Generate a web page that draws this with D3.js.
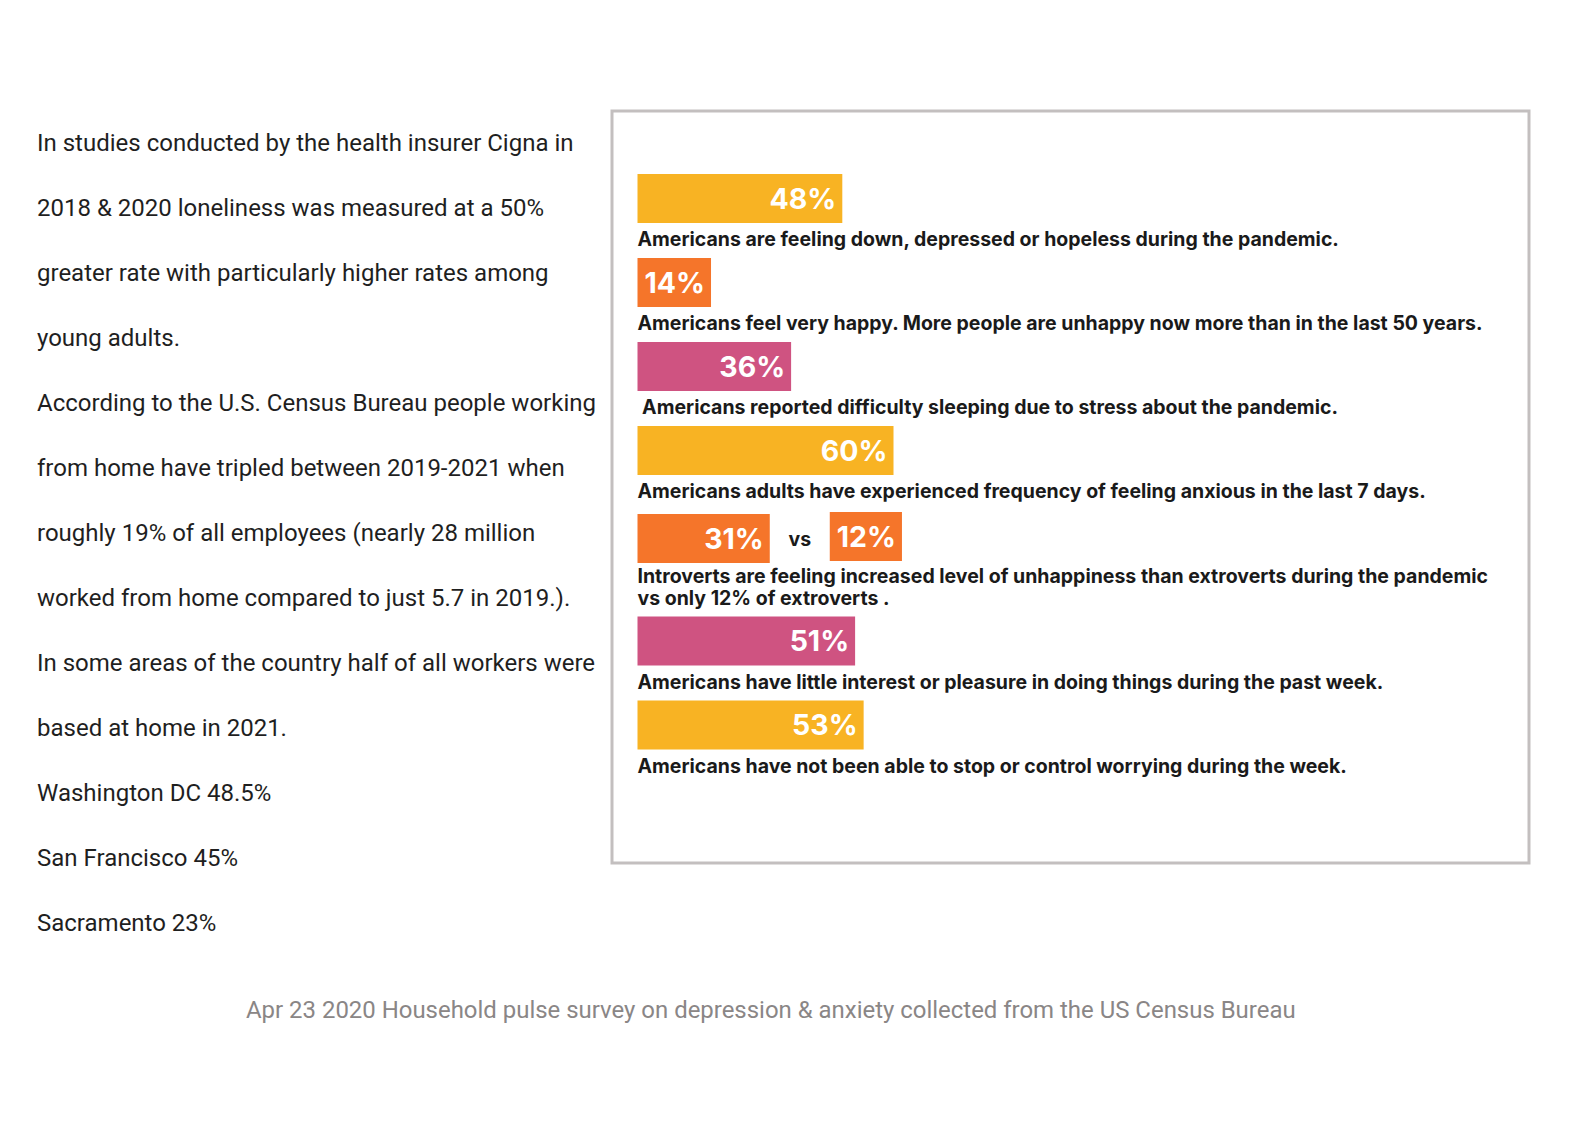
<!DOCTYPE html>
<html><head><meta charset="utf-8">
<script src="https://cdn.jsdelivr.net/npm/d3@7"></script>
<style>html,body{margin:0;padding:0;background:#fff;} svg{display:block}</style>
</head><body>
<svg id="chart" width="1584" height="1147"></svg>
<script>
// ---------- DATA ----------
const rowValues   = [48, 14, 36, 60, 31, 51, 53];
const rowCompare  = [null, null, null, null, 12, null, null];
const rowColorKey = ["yellow", "orange", "pink", "yellow", "orange", "pink", "yellow"];
const rowCaptions = [
  ["Americans are feeling down, depressed or hopeless during the pandemic."],
  ["Americans feel very happy. More people are unhappy now more than in the last 50 years."],
  [" Americans reported difficulty sleeping due to stress about the pandemic."],
  ["Americans adults have experienced frequency of feeling anxious in the last 7 days."],
  ["Introverts are feeling increased level of unhappiness than extroverts during the pandemic",
   "vs only 12% of extroverts ."],
  ["Americans have little interest or pleasure in doing things during the past week."],
  ["Americans have not been able to stop or control worrying during the week."]
];
const compareWord = "vs";
const leftLines = [
  "In studies conducted by the health insurer Cigna in",
  "2018 & 2020 loneliness was measured at a 50%",
  "greater rate with particularly higher rates among",
  "young adults.",
  "According to the U.S. Census Bureau people working",
  "from home have tripled between 2019-2021 when",
  "roughly 19% of all employees (nearly 28 million",
  "worked from home compared to just 5.7 in 2019.).",
  "In some areas of the country half of all workers were",
  "based at home in 2021.",
  "Washington DC 48.5%",
  "San Francisco 45%",
  "Sacramento 23%"
];
const footerText = "Apr 23 2020 Household pulse survey on depression & anxiety collected from the US Census Bureau";

// ---------- STYLE / LAYOUT ----------
const palette = {yellow: "#F8B323", orange: "#F5752A", pink: "#CF5381"};
const svg = d3.select("#chart");

// Frame
const frame = {x: 612, y: 111, w: 917, h: 752};
svg.append("rect")
  .attr("x", frame.x).attr("y", frame.y)
  .attr("width", frame.w).attr("height", frame.h)
  .attr("fill", "none").attr("stroke", "#c3bfbf").attr("stroke-width", 3);

// Left paragraph
const leftG = svg.append("g")
  .attr("font-family", "Roboto, 'Liberation Sans', sans-serif")
  .attr("font-size", 24).attr("fill", "#1f1f1f");
leftG.selectAll("text").data(leftLines).join("text")
  .attr("x", 37)
  .attr("y", (d, i) => 150.7 + i * 65)
  .text(d => d);

// Bars
const barX0 = 637.5, barH = 49, firstTop = 174;
const capOffset = 23, capOffsetMulti = 20, multiPreGap = 4, lineGap = 21.5, afterCap = 12;
const x = d3.scaleLinear().domain([0, 60]).range([0, 256]);

// caption font sizing: fit first caption to reference width
const capFont = "Inter, 'DejaVu Sans', sans-serif";
const probe = svg.append("text").attr("font-family", capFont).attr("font-weight", 700)
  .attr("font-size", 18).text(rowCaptions[0][0]);
const capSize = 18 * 702 / probe.node().getComputedTextLength();
probe.remove();

const valFont = "Inter, 'DejaVu Sans', sans-serif";
const valSize = 28.5;

// compute row tops
const rowTops = [], rowCapOff = [];
let yCursor = firstTop;
rowCaptions.forEach((lines, i) => {
  const multi = lines.length > 1;
  if (multi) yCursor += multiPreGap;
  const off = multi ? capOffsetMulti : capOffset;
  rowTops.push(yCursor);
  rowCapOff.push(off);
  yCursor += barH + off + (lines.length - 1) * lineGap + afterCap;
});

const rows = rowValues.map((v, i) => ({
  v, cmp: rowCompare[i], color: palette[rowColorKey[i]], caption: rowCaptions[i],
  top: rowTops[i], capOff: rowCapOff[i]
}));

const g = svg.append("g");

function drawBar(parent, xStart, top, value, color) {
  const lbl = parent.append("text")
    .attr("font-family", valFont).attr("font-weight", 700)
    .attr("font-size", valSize).attr("fill", "#fff")
    .attr("text-anchor", "end")
    .text(value + "%");
  const tw = lbl.node().getComputedTextLength();
  const w = Math.max(x(value), tw + 13);
  parent.insert("rect", "text")
    .attr("x", xStart).attr("y", top)
    .attr("width", w).attr("height", barH)
    .attr("fill", color);
  lbl.attr("x", xStart + w - 6).attr("y", top + barH / 2).attr("dy", "0.36em");
  return xStart + w;
}

rows.forEach(r => {
  const rg = g.append("g");
  const end1 = drawBar(rg, barX0, r.top, r.v, r.color);
  if (r.cmp !== null) {
    rg.append("text")
      .attr("x", end1 + 30).attr("y", r.top + barH / 2).attr("dy", "0.38em")
      .attr("text-anchor", "middle")
      .attr("font-family", capFont).attr("font-weight", 700)
      .attr("font-size", capSize).attr("fill", "#1a1a1a")
      .text(compareWord);
    drawBar(rg, end1 + 60, r.top - 2, r.cmp, r.color);
  }
  rg.selectAll("text.cap").data(r.caption).join("text")
    .attr("class", "cap")
    .attr("x", barX0)
    .attr("y", (d, j) => r.top + barH + r.capOff + j * lineGap)
    .attr("font-family", capFont).attr("font-weight", 700)
    .attr("font-size", capSize).attr("fill", "#1a1a1a")
    .attr("xml:space", "preserve")
    .text(d => d);
});

// Footer
const foot = svg.append("text")
  .attr("x", 246).attr("y", 1018.3)
  .attr("font-family", "Roboto, 'Liberation Sans', sans-serif")
  .attr("font-size", 22.5).attr("fill", "#8a8686")
  .text(footerText);
const fw = foot.node().getComputedTextLength();
foot.attr("font-size", 22.5 * 1050 / fw);
</script>
</body></html>
